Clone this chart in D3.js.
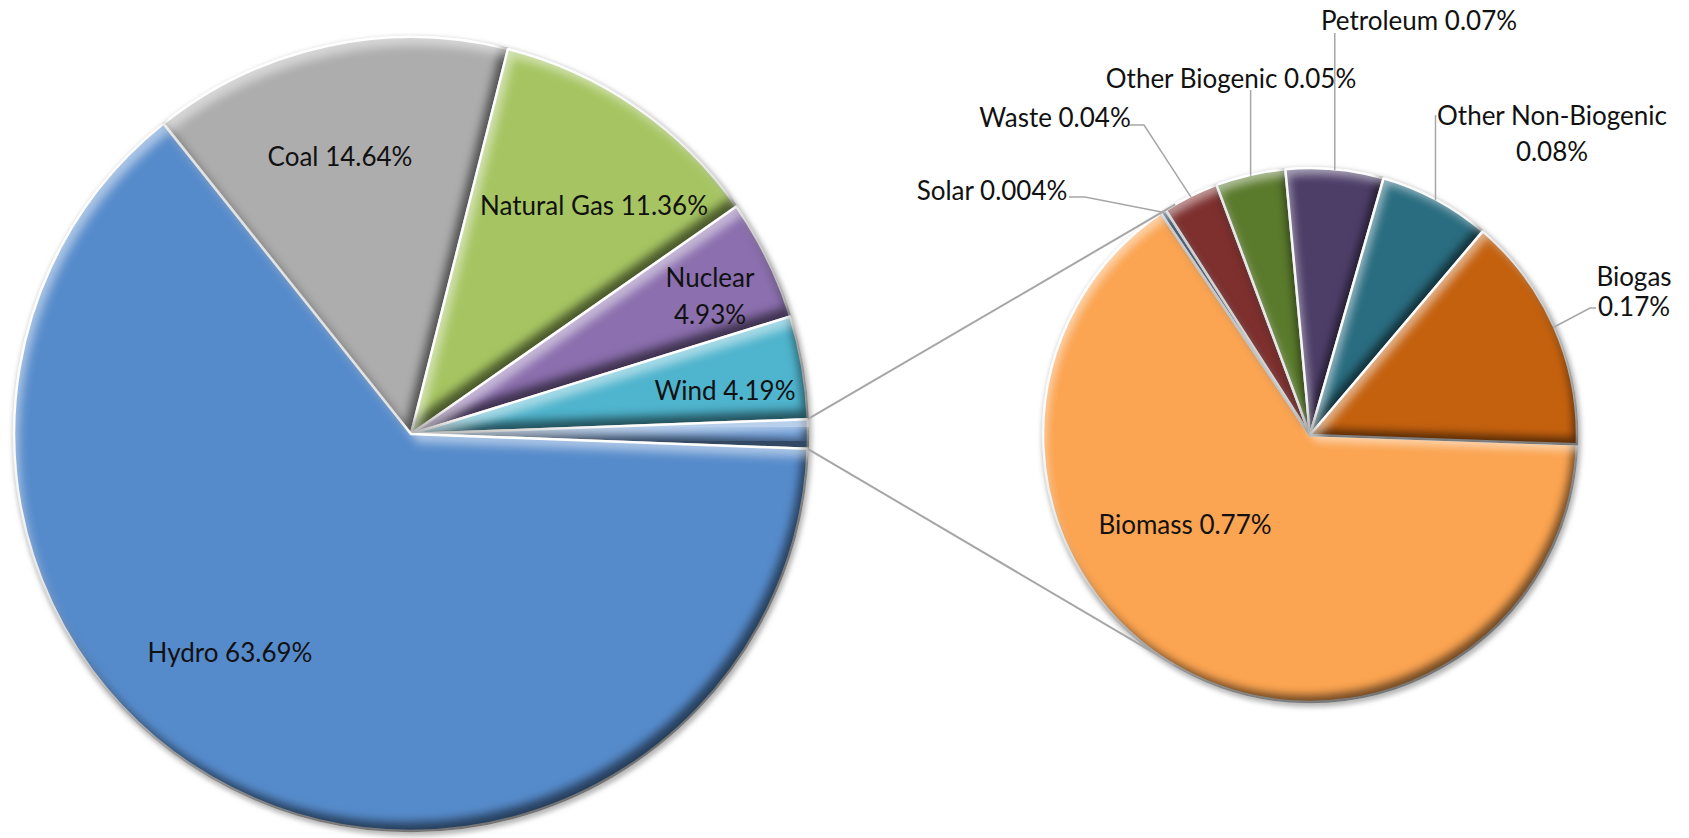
<!DOCTYPE html>
<html>
<head>
<meta charset="utf-8">
<script src="https://cdn.jsdelivr.net/npm/d3@7/dist/d3.min.js"></script>
<style>
  body { margin: 0; background: #fff; }
  text { font-family: Lato, "Open Sans", sans-serif; fill: #111; }
</style>
</head>
<body>
<div id="chart"></div>
<script>
// --- data (percent of total generation) ---
const mainCategories = ["Coal", "Natural Gas", "Nuclear", "Wind", "Hydro"];
const mainValues = [14.64, 11.36, 4.93, 4.19, 63.69];
const mainColors = ["#adadad", "#a6c562", "#8b6fae", "#4fb4cd", "#568bcb"];
const otherColor = "#72a0da";

const subCategories = ["Biomass", "Solar", "Waste", "Other Biogenic", "Petroleum", "Other Non-Biogenic", "Biogas"];
const subValues = [0.77, 0.004, 0.04, 0.05, 0.07, 0.08, 0.17];
const subColors = ["#fba451", "#2c4d75", "#7e302e", "#5a7a2c", "#4d3e68", "#2a6d80", "#c4610f"];

// --- layout ---
const W = 1689, H = 838;
const mainPie = { cx: 411, cy: 434, r: 397 };
const subPie = { cx: 1310, cy: 435, r: 267 };
const subStartDeg = 92;
const fontSize = 26;

// label placement, offsets from the pie centre; lines = split label in two
const mainLabelPos = {
  "Coal": { dx: -71, dy: -277 },
  "Natural Gas": { dx: 183, dy: -228 },
  "Nuclear": { dx: 299, dy: -156, lines: true, gap: 37 },
  "Wind": { dx: 314, dy: -43 },
  "Hydro": { dx: -181, dy: 219 }
};
const subLabelPos = {
  "Biomass": { dx: -125, dy: 90 },
  "Solar": { dx: -318, dy: -244, lead: [[-225, -238], [-241, -238]] },
  "Waste": { dx: -255, dy: -317, lead: [[-166, -310], [-182, -310]] },
  "Other Biogenic": { dx: -79, dy: -356, lead: [[null, -345]] },
  "Petroleum": { dx: 109, dy: -414, lead: [[null, -402]] },
  "Other Non-Biogenic": { dx: 242, dy: -319, lines: true, gap: 36, lead: [[null, -320]] },
  "Biogas": { dx: 324, dy: -158, lines: true, gap: 30, lead: [[280, -127], [286, -127]] }
};

const svg = d3.select("#chart").append("svg")
  .attr("width", W)
  .attr("height", H);

const defs = svg.append("defs");

// bevel: light band on the top-left edges, dark band on the bottom-right edges
function addBevel(id, blur, off) {
  const f = defs.append("filter").attr("id", id)
    .attr("color-interpolation-filters", "sRGB")
    .attr("x", "-5%").attr("y", "-5%").attr("width", "110%").attr("height", "110%");
  f.append("feGaussianBlur").attr("in", "SourceAlpha").attr("stdDeviation", blur).attr("result", "b");
  // shade
  f.append("feOffset").attr("in", "b").attr("dx", -off * 0.6).attr("dy", -off).attr("result", "bUp");
  f.append("feComposite").attr("in", "SourceAlpha").attr("in2", "bUp").attr("operator", "out").attr("result", "shMask");
  f.append("feFlood").attr("flood-color", "#000").attr("flood-opacity", 0.55).attr("result", "blk");
  f.append("feComposite").attr("in", "blk").attr("in2", "shMask").attr("operator", "in").attr("result", "shade");
  // highlight
  f.append("feOffset").attr("in", "b").attr("dx", off * 0.6).attr("dy", off).attr("result", "bDn");
  f.append("feComposite").attr("in", "SourceAlpha").attr("in2", "bDn").attr("operator", "out").attr("result", "hiMask");
  f.append("feFlood").attr("flood-color", "#fff").attr("flood-opacity", 0.5).attr("result", "wht");
  f.append("feComposite").attr("in", "wht").attr("in2", "hiMask").attr("operator", "in").attr("result", "hi");
  const m = f.append("feMerge");
  m.append("feMergeNode").attr("in", "SourceGraphic");
  m.append("feMergeNode").attr("in", "shade");
  m.append("feMergeNode").attr("in", "hi");
}
addBevel("bevelMain", 5, 10);
addBevel("bevelSub", 4, 8);

const shadow = defs.append("filter").attr("id", "shadow")
  .attr("x", "-10%").attr("y", "-10%").attr("width", "120%").attr("height", "120%");
shadow.append("feGaussianBlur").attr("stdDeviation", 2.5);

// --- main pie ---
const otherTotal = d3.sum(subValues);
const mainData = mainCategories.map((c, i) => ({ name: c, value: mainValues[i], color: mainColors[i] }));
mainData.splice(4, 0, { name: "Other", value: otherTotal, color: otherColor });

// rotate so the combined slice is centred at 3 o'clock
const total = d3.sum(mainData, d => d.value);
const before = d3.sum(mainData.slice(0, 4), d => d.value);
const mainStart = Math.PI / 2 - 2 * Math.PI * (before + otherTotal / 2) / total;

const pieMain = d3.pie().sort(null).value(d => d.value)
  .startAngle(mainStart).endAngle(mainStart + 2 * Math.PI);
const arcMain = d3.arc().innerRadius(0).outerRadius(mainPie.r);
const mainArcs = pieMain(mainData);

const gMain = svg.append("g").attr("transform", `translate(${mainPie.cx},${mainPie.cy})`);
gMain.append("circle").attr("cx", 1.5).attr("cy", 2.5).attr("r", mainPie.r + 2.5)
  .attr("fill", "#b5b5b5").attr("filter", "url(#shadow)");
gMain.selectAll("path")
  .data(mainArcs)
  .enter()
  .append("path")
  .attr("d", arcMain)
  .attr("fill", d => d.data.color)
  .attr("stroke", "#fff")
  .attr("stroke-width", 2.5)
  .attr("stroke-linejoin", "round")
  .attr("filter", "url(#bevelMain)");

// --- secondary pie ---
const subData = subCategories.map((c, i) => ({ name: c, value: subValues[i], color: subColors[i] }));
const subStart = subStartDeg * Math.PI / 180;
const pieSub = d3.pie().sort(null).value(d => d.value)
  .startAngle(subStart).endAngle(subStart + 2 * Math.PI);
const arcSub = d3.arc().innerRadius(0).outerRadius(subPie.r);
const subArcs = pieSub(subData);

const gSub = svg.append("g").attr("transform", `translate(${subPie.cx},${subPie.cy})`);
gSub.append("circle").attr("cx", 1.5).attr("cy", 2.5).attr("r", subPie.r + 2.5)
  .attr("fill", "#b5b5b5").attr("filter", "url(#shadow)");
gSub.selectAll("path")
  .data(subArcs)
  .enter()
  .append("path")
  .attr("d", arcSub)
  .attr("fill", d => d.data.color)
  .attr("stroke", "#fff")
  .attr("stroke-width", 2.5)
  .attr("stroke-linejoin", "round")
  .attr("filter", "url(#bevelSub)");

// --- connector lines from the combined slice to the secondary pie ---
const otherArc = mainArcs[4];
function rimPoint(p, a) {
  return [p.cx + p.r * Math.sin(a), p.cy - p.r * Math.cos(a)];
}
function tangent(pt, upper) {
  const vx = pt[0] - subPie.cx, vy = pt[1] - subPie.cy;
  const d = Math.hypot(vx, vy);
  const base = Math.atan2(vy, vx);
  const off = Math.acos(subPie.r / d);
  const cands = [base + off, base - off].map(t => [subPie.cx + subPie.r * Math.cos(t), subPie.cy + subPie.r * Math.sin(t)]);
  return upper ? (cands[0][1] < cands[1][1] ? cands[0] : cands[1])
               : (cands[0][1] > cands[1][1] ? cands[0] : cands[1]);
}
const p1 = rimPoint(mainPie, otherArc.startAngle);
const p2 = rimPoint(mainPie, otherArc.endAngle);
svg.append("g").selectAll("line")
  .data([[p1, tangent(p1, true)], [p2, tangent(p2, false)]])
  .enter()
  .append("line")
  .attr("x1", d => d[0][0]).attr("y1", d => d[0][1])
  .attr("x2", d => d[1][0]).attr("y2", d => d[1][1])
  .attr("stroke", "#a6a6a6")
  .attr("stroke-width", 2);

// --- labels ---
function labelText(name, value) {
  return [name, value + "%"];
}
function drawLabel(g, d, pos) {
  const parts = labelText(d.data.name, d.data.value);
  const t = g.append("text")
    .attr("text-anchor", "middle")
    .style("font-size", fontSize + "px");
  if (pos.lines) {
    t.append("tspan").attr("x", pos.dx).attr("y", pos.dy).attr("dy", "0.36em").text(parts[0]);
    t.append("tspan").attr("x", pos.dx).attr("y", pos.dy + pos.gap).attr("dy", "0.36em").text(parts[1]);
  } else {
    t.attr("x", pos.dx).attr("y", pos.dy).attr("dy", "0.36em").text(parts.join(" "));
  }
}

mainArcs.forEach(d => {
  const pos = mainLabelPos[d.data.name];
  if (pos) drawLabel(gMain, d, pos);
});

const leadLine = d3.line();
subArcs.forEach(d => {
  const pos = subLabelPos[d.data.name];
  if (!pos) return;
  if (pos.lead) {
    const mid = (d.startAngle + d.endAngle) / 2;
    const a = [(subPie.r - 1) * Math.sin(mid), -(subPie.r - 1) * Math.cos(mid)];
    const pts = [a].concat(pos.lead.map(p => [p[0] === null ? a[0] : p[0], p[1]]));
    gSub.append("path")
      .attr("d", leadLine(pts))
      .attr("fill", "none")
      .attr("stroke", "#a6a6a6")
      .attr("stroke-width", 1.5);
  }
  drawLabel(gSub, d, pos);
});
</script>
</body>
</html>
